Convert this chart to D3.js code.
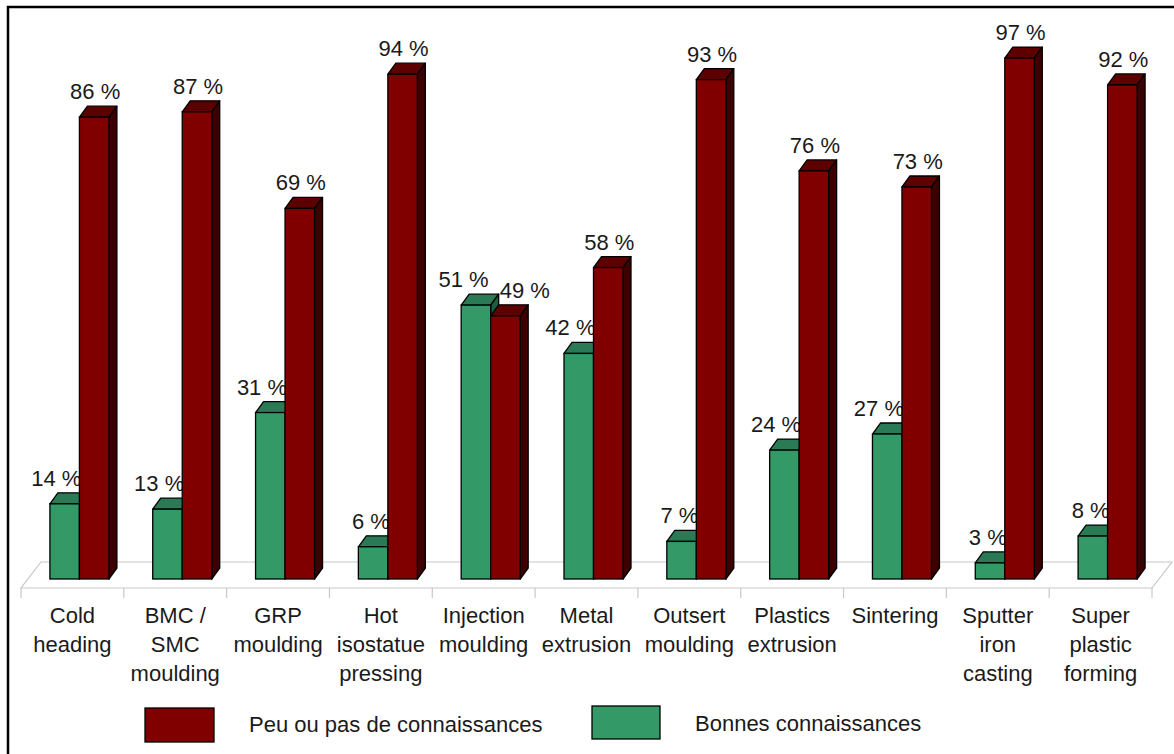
<!DOCTYPE html>
<html><head><meta charset="utf-8">
<script src="https://cdn.jsdelivr.net/npm/d3@7"></script>
<style>
html,body{margin:0;padding:0;background:#fff;}
svg text{font-family:"Liberation Sans",Arial,Helvetica,sans-serif;fill:#1a1a1a;}
</style></head>
<body>
<svg id="chart" width="1174" height="754"></svg>
<script>
const categories = [
  ["Cold","heading"],
  ["BMC /","SMC","moulding"],
  ["GRP","moulding"],
  ["Hot","isostatue","pressing"],
  ["Injection","moulding"],
  ["Metal","extrusion"],
  ["Outsert","moulding"],
  ["Plastics","extrusion"],
  ["Sintering"],
  ["Sputter","iron","casting"],
  ["Super","plastic","forming"]
];
const peuValues = [86, 87, 69, 94, 49, 58, 93, 76, 73, 97, 92];
const bonnesValues = [14, 13, 31, 6, 51, 42, 7, 24, 27, 3, 8];
const seriesNames = ["Peu ou pas de connaissances", "Bonnes connaissances"];
const yDomain = [0, 100];

const svg = d3.select("#chart");
const W = 1174, H = 754;

// layout
const floorFront = {x0: 21, x1: 1152, y: 588};
const floorDepth = {dx: 20, dy: -26};
const barShift = {dx: 7, dy: -9};  // bar front plane relative to floor front edge
const depth = {dx: 8, dy: -11};    // bar depth
const fontSize = 22;

const x = d3.scaleBand()
  .domain(d3.range(categories.length))
  .range([floorFront.x0 + barShift.dx, floorFront.x1 + barShift.dx])
  .paddingInner(0).paddingOuter(0);
const xFront = d3.scaleBand()
  .domain(d3.range(categories.length))
  .range([floorFront.x0, floorFront.x1]);
const y = d3.scaleLinear().domain(yDomain).range([floorFront.y + barShift.dy, 42]);

const barW = 29.5;

const colors = {
  red: {front: "#800000", top: "#5c0000", side: "#3d0000"},
  green: {front: "#339966", top: "#2a7a55", side: "#1f5c3f"}
};

// border
svg.append("rect").attr("x", 8).attr("y", 7).attr("width", W).attr("height", H)
  .attr("fill", "none").attr("stroke", "#000").attr("stroke-width", 2.5);

// floor
const fl = [
  [floorFront.x0, floorFront.y],
  [floorFront.x1, floorFront.y],
  [floorFront.x1 + floorDepth.dx, floorFront.y + floorDepth.dy],
  [floorFront.x0 + floorDepth.dx, floorFront.y + floorDepth.dy]
];
svg.append("polygon").attr("points", fl.map(p => p.join(",")).join(" "))
  .attr("fill", "#fff").attr("stroke", "#c8c8c8").attr("stroke-width", 1.2);

// ticks along front edge
const tickPos = d3.range(categories.length + 1).map(i => floorFront.x0 + i * xFront.bandwidth());
svg.append("g").selectAll("line").data(tickPos).join("line")
  .attr("x1", d => d).attr("x2", d => d)
  .attr("y1", floorFront.y).attr("y2", floorFront.y + 10)
  .attr("stroke", "#c8c8c8").attr("stroke-width", 1.2);

// category labels
const catG = svg.append("g");
categories.forEach((lines, i) => {
  const t = catG.append("text")
    .attr("text-anchor", "middle")
    .attr("font-size", fontSize)
    .attr("x", xFront(i) + xFront.bandwidth() / 2)
    .attr("y", 623);
  lines.forEach((ln, j) => {
    t.append("tspan").attr("x", xFront(i) + xFront.bandwidth() / 2)
      .attr("y", 623 + j * 29).text(ln);
  });
});

function drawBar(g, x0, v, c) {
  const x1 = x0 + barW, yt = y(v), yb = y(0);
  const dx = depth.dx, dy = depth.dy;
  g.append("polygon")
    .attr("points", [[x0, yt], [x0 + dx, yt + dy], [x1 + dx, yt + dy], [x1, yt]].map(p => p.join(",")).join(" "))
    .attr("fill", c.top).attr("stroke", "#000").attr("stroke-width", 1.3).attr("stroke-linejoin", "round");
  g.append("polygon")
    .attr("points", [[x1, yt], [x1 + dx, yt + dy], [x1 + dx, yb + dy], [x1, yb]].map(p => p.join(",")).join(" "))
    .attr("fill", c.side).attr("stroke", "#000").attr("stroke-width", 1.3).attr("stroke-linejoin", "round");
  g.append("rect").attr("x", x0).attr("y", yt).attr("width", barW).attr("height", yb - yt)
    .attr("fill", c.front).attr("stroke", "#000").attr("stroke-width", 1.3);
}

const barsG = svg.append("g");
categories.forEach((_, i) => {
  const center = x(i) + x.bandwidth() / 2;
  const g = barsG.append("g");
  const gv = bonnesValues[i], rv = peuValues[i];
  // green bar
  drawBar(g, center - barW, gv, colors.green);
  // green label
  const gl = g.append("text").attr("font-size", fontSize).attr("text-anchor", "end")
    .attr("x", center + 2).attr("y", y(gv) - 18).text(gv + " %");
  // red bar
  drawBar(g, center, rv, colors.red);
  const rl = g.append("text").attr("font-size", fontSize).attr("text-anchor", "middle")
    .attr("x", center + barW / 2 + 1).attr("y", y(rv) - 18).text(rv + " %");
  // collision avoidance
  const gb = gl.node().getBBox(), rb = rl.node().getBBox();
  const vOverlap = Math.abs((y(gv) - 18) - (y(rv) - 18)) < fontSize;
  if (vOverlap && rb.x < gb.x + gb.width + 6) {
    gl.attr("x", center + 2 - 4);
    const newGEnd = gb.x + gb.width - 4;
    rl.attr("x", newGEnd + 11 + rb.width / 2);
    gl.raise(); rl.raise();
  }
});

// legend
const leg = svg.append("g");
leg.append("rect").attr("x", 145).attr("y", 708).attr("width", 69).attr("height", 34)
  .attr("fill", colors.red.front).attr("stroke", "#000").attr("stroke-width", 1.3);
leg.append("text").attr("x", 249).attr("y", 732).attr("font-size", fontSize).text(seriesNames[0]);
leg.append("rect").attr("x", 592).attr("y", 706).attr("width", 68).attr("height", 33)
  .attr("fill", colors.green.front).attr("stroke", "#000").attr("stroke-width", 1.3);
leg.append("text").attr("x", 695).attr("y", 731).attr("font-size", fontSize).text(seriesNames[1]);
</script>
</body></html>
